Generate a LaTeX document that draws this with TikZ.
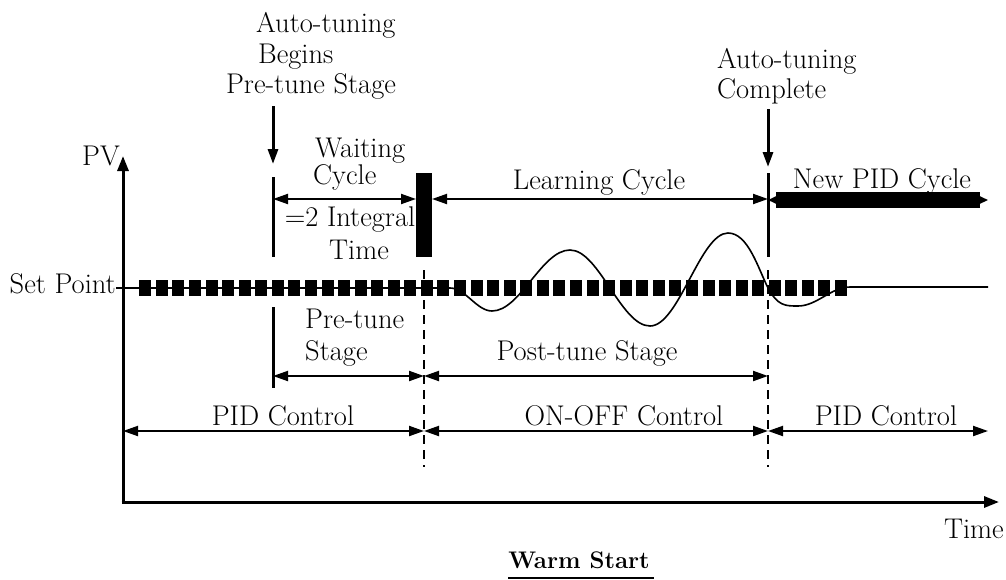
\documentclass[tikz,border=0pt]{standalone}
\usepackage{fontspec}
\usetikzlibrary{arrows.meta}
\tikzset{
  lbl/.style={anchor=base west,inner sep=0pt,font=\fontsize{28.5}{32}\selectfont},
  lblc/.style={lbl,anchor=base},
  lble/.style={lbl,anchor=base east},
  tip/.style={-{Triangle[length=15pt,width=10pt]}},
  dim/.style={line width=2pt,{Triangle[length=15pt,width=10pt]}-{Triangle[length=15pt,width=10pt]}},
  marker/.style={line width=3pt},
  axis/.style={line width=3pt,-{Triangle[length=15pt,width=11pt]}},
  guide/.style={line width=1.3pt,dash pattern=on 9pt off 6pt},
}
\begin{document}
\begin{tikzpicture}[x=1pt,y=-1pt]
\useasboundingbox (0,0) rectangle (1006,579);

% ---------- text ----------
\node[lbl] (atb1) at (256,32) {Auto-tuning};
\node[lbl] (atb2) at (258,63) {Begins};
\node[lblc] (atb3) at (311,93) {Pre-tune Stage};
\node[lbl] (wc1) at (315,157) {Waiting};
\node[lbl] (wc2) at (313,184) {Cycle};
\node[lblc] (it1) at (350,226) {=2 Integral};
\node[lblc] (it2) at (359,259) {Time};
\node[lblc] (lc) at (599,189) {Learning Cycle};
\node[lbl] (atc1) at (717,68) {Auto-tuning};
\node[lbl] (atc2) at (717,98) {Complete};
\node[lblc] (npc) at (882,188) {New PID Cycle};
\node[lble] (pv) at (120,165) {PV};
\node[lble] (sp) at (116,293) {Set Point};
\node[lbl] (pts1) at (305,328) {Pre-tune};
\node[lbl] (pts2) at (305,360) {Stage};
\node[lblc] (pos) at (587,360) {Post-tune Stage};
\node[lblc] (pid1) at (283,425) {PID Control};
\node[lblc] (onoff) at (624,425) {ON-OFF Control};
\node[lblc] (pid2) at (886,425) {PID Control};
\node[lble] (time) at (1004,538) {Time};
\node[anchor=base,inner sep=0pt,font=\fontsize{24}{28}\selectfont\bfseries] (ws) at (579,568) {Warm Start};
\draw[line width=1.5pt] ([yshift=-10pt]ws.base west) -- ([yshift=-10pt,xshift=4pt]ws.base east);

% ---------- coordinates ----------
\coordinate (O) at (123,502);
\coordinate (Ytop) at (123,156);
\coordinate (Xend) at (999,502);
\coordinate (spEnd) at (988,287);

\coordinate (a1) at (273,106); \coordinate (a1t) at (273,164);
\coordinate (a2) at (768,109); \coordinate (a2t) at (768,167);
\coordinate (v1a) at (273,177); \coordinate (v1b) at (273,257);
\coordinate (v1c) at (273,307); \coordinate (v1d) at (273,388);
\coordinate (v2a) at (768,173); \coordinate (v2b) at (768,257);
\coordinate (d1a) at (424,270); \coordinate (d1b) at (424,467);
\coordinate (d2a) at (768,270); \coordinate (d2b) at (768,467);

\coordinate (w1) at (273,199); \coordinate (w2) at (416,199);
\coordinate (l1) at (432,199); \coordinate (l2) at (768,199);
\coordinate (n1) at (768,200); \coordinate (n2) at (988,200);
\coordinate (p1) at (273,376); \coordinate (p2) at (424,376);
\coordinate (q1) at (424,376); \coordinate (q2) at (768,376);
\coordinate (c1) at (123,431); \coordinate (c2) at (424,431);
\coordinate (c3) at (768,431); \coordinate (c4) at (988,431);

% ---------- axes ----------
\draw[axis] (O) -- (Ytop);
\draw[axis] ([xshift=-1.5pt]O) -- (Xend);

% ---------- markers ----------
\draw[marker,tip] (a1) -- (a1t);
\draw[marker,tip] (a2) -- (a2t);
\draw[marker] (v1a) -- (v1b);
\draw[marker] (v1c) -- (v1d);
\draw[marker] (v2a) -- (v2b);
\draw[guide] (d1a) -- (d1b);
\draw[guide] (d2a) -- (d2b);
\fill (416,173) rectangle (432,257);

% ---------- dimension arrows ----------
\draw[dim] (w1) -- (w2);
\draw[dim] (l1) -- (l2);
\draw[line width=2pt,{Triangle[length=9pt,width=8pt]}-{Triangle[length=9pt,width=8pt]}] (n1) -- (n2);
\fill (776,192) rectangle (980,208);
\draw[dim] (p1) -- (p2);
\draw[dim] (q1) -- (q2);
\draw[dim] (c1) -- (c2);
\draw[dim] (c2) -- (c3);
\draw[dim] (c3) -- (c4);

% ---------- set point and PV curve ----------
\draw[line width=1.6pt] (sp.base east |- 0,288) -- (450,288)
  .. controls (465.3,288) and (476.7,311) .. (492,311)
  .. controls (520.4,311) and (541.6,250) .. (570,250)
  .. controls (599.1,250) and (620.9,326) .. (650,326)
  .. controls (678.8,326) and (700.2,233) .. (728,233)
  .. controls (748,233) and (758,268) .. (768,288)
  .. controls (778,306) and (785,306) .. (798,306)
  .. controls (817,306) and (831,287) .. (850,287)
  -- (spEnd);
\foreach \i in {0,...,42}
  \fill ({139.3+\i*16.565},280) rectangle ++(12,16);
\end{tikzpicture}
\end{document}
